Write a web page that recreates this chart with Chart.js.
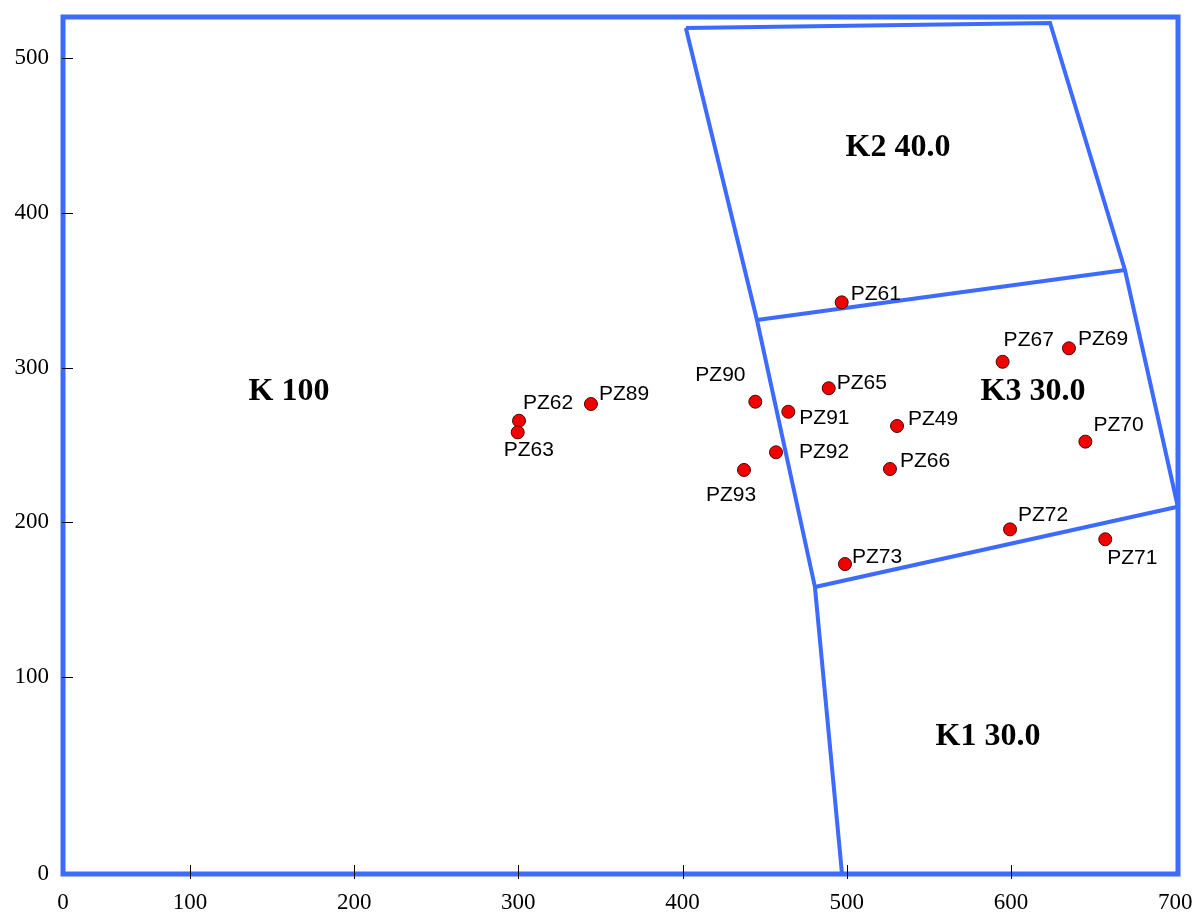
<!DOCTYPE html>
<html>
<head>
<meta charset="utf-8">
<script src="https://cdn.jsdelivr.net/npm/chart.js@4.4.1/dist/chart.umd.min.js"></script>
<style>
  body { margin: 0; background: #fff; }
  #wrap { width: 1199px; height: 912px; position: relative; }
</style>
</head>
<body>
<div id="wrap"><canvas id="chart"></canvas></div>
<script>
// wells
const wellNames = ["PZ61", "PZ62", "PZ63", "PZ89", "PZ90", "PZ91", "PZ65", "PZ92", "PZ93",
  "PZ67", "PZ69", "PZ70", "PZ72", "PZ71", "PZ49", "PZ66", "PZ73"];
const wellX = [496.9, 300.4, 299.6, 344.2, 444.3, 464.4, 489.0, 456.9, 437.4,
  594.9, 635.3, 645.3, 599.4, 657.4, 530.6, 526.3, 498.9];
const wellY = [342.1, 265.6, 258.1, 276.4, 277.9, 271.4, 286.6, 245.2, 233.8,
  303.7, 312.4, 252.1, 195.4, 189.0, 262.2, 234.4, 173.0];
// where each name sits, px from the dot: [to text left, to text middle]
const labelShift = [[9, -8], [4, -18], [-14, 18], [8, -10], [-60, -27], [11, 6], [8, -5], [23, 0], [-38, 25],
  [1, -22], [9, -9], [8, -16], [8, -14], [2, 19], [11, -7], [10, -8], [7, -7]];

// zone boundaries
const westEdge = [[402, 519.4], [445.3, 330.7], [480.6, 158.2], [497.1, -27.3]];
const eastEdge = [[402, 519.4], [623.8, 522.6], [669.4, 363], [701.6, 210]];
const k2k3Edge = [[445.3, 330.7], [669.4, 363]];
const k3k1Edge = [[480.6, 158.2], [701.6, 210]];

// zone captions
const zoneNames = ["K 100", "K2 40.0", "K3 30.0", "K1 30.0"];
const zoneX = [160.3, 531.2, 613.4, 586];
const zoneY = [284.2, 441.8, 284.2, 61.2];

// axes (frame corners are labelled 0)
const xMin = 22.7, xMax = 701.7, yMin = -27.3, yMax = 526.5;
const xTicks = [xMin, 100, 200, 300, 400, 500, 600, 700];
const xTickLabels = ["0", "100", "200", "300", "400", "500", "600", "700"];
const yTicks = [yMin, 100, 200, 300, 400, 500];
const yTickLabels = ["0", "100", "200", "300", "400", "500"];

const BLUE = "#3d6bff";

const toPts = (arr) => arr.map((p) => ({ x: p[0], y: p[1] }));
const edge = (arr) => ({
  type: "line",
  data: toPts(arr),
  borderColor: BLUE,
  borderWidth: 4,
  pointRadius: 0,
  fill: false,
  tension: 0,
  clip: false,
  order: 2,
});

// frame, inner tick marks and all the text on the plot
const decor = {
  id: "decor",
  afterDatasetsDraw(chart) {
    const { ctx, chartArea: a } = chart;
    ctx.save();
    ctx.strokeStyle = BLUE;
    ctx.lineWidth = 5;
    ctx.strokeRect(a.left, a.top, a.right - a.left, a.bottom - a.top);
    ctx.restore();
  },
  afterDraw(chart) {
    const { ctx, chartArea: a, scales } = chart;
    const sx = scales.x, sy = scales.y;
    ctx.save();
    ctx.strokeStyle = "#000";
    ctx.lineWidth = 1;
    ctx.beginPath();
    xTicks.slice(1, -1).forEach((v) => {
      const px = Math.round(sx.getPixelForValue(v)) + 0.5;
      ctx.moveTo(px, a.bottom - 9);
      ctx.lineTo(px, a.bottom + 5);
    });
    yTicks.slice(1).forEach((v) => {
      const py = Math.round(sy.getPixelForValue(v)) + 0.5;
      ctx.moveTo(a.left - 1, py);
      ctx.lineTo(a.left + 10, py);
    });
    ctx.stroke();

    ctx.fillStyle = "#000";
    ctx.font = '21px "Liberation Sans", Arial, sans-serif';
    ctx.textAlign = "left";
    ctx.textBaseline = "middle";
    wellNames.forEach((name, i) => {
      const px = sx.getPixelForValue(wellX[i]);
      const py = sy.getPixelForValue(wellY[i]);
      ctx.fillText(name, px + labelShift[i][0], py + labelShift[i][1]);
    });

    ctx.font = 'bold 32px "Liberation Serif", "Times New Roman", serif';
    ctx.textAlign = "center";
    zoneNames.forEach((name, i) => {
      ctx.fillText(name, sx.getPixelForValue(zoneX[i]), sy.getPixelForValue(zoneY[i]));
    });
    ctx.restore();
  },
};

const tickFont = { family: '"Liberation Serif", "Times New Roman", serif', size: 23 };

new Chart(document.getElementById("chart"), {
  type: "scatter",
  data: {
    datasets: [
      {
        data: wellX.map((x, i) => ({ x: x, y: wellY[i] })),
        backgroundColor: "#f20000",
        borderColor: "#4a0606",
        borderWidth: 1,
        pointRadius: 6.5,
        order: 1,
      },
      edge(westEdge),
      edge(eastEdge),
      edge(k2k3Edge),
      edge(k3k1Edge),
    ],
  },
  options: {
    responsive: true,
    maintainAspectRatio: false,
    animation: false,
    layout: { padding: { top: 17, right: 21, left: 0, bottom: 0 } },
    plugins: { legend: { display: false }, tooltip: { enabled: false } },
    scales: {
      x: {
        type: "linear",
        min: xMin,
        max: xMax,
        grid: { display: false, drawTicks: false },
        border: { display: false },
        afterBuildTicks: (scale) => { scale.ticks = xTicks.map((v) => ({ value: v })); },
        afterFit: (scale) => {
          scale.height = 38;
          scale.paddingLeft = 0;
          scale.paddingRight = 0;
        },
        ticks: {
          autoSkip: false,
          maxRotation: 0,
          padding: 15,
          color: "#000",
          font: tickFont,
          callback: (v, i) => xTickLabels[i],
        },
      },
      y: {
        type: "linear",
        min: yMin,
        max: yMax,
        grid: { display: false, drawTicks: false },
        border: { display: false },
        afterBuildTicks: (scale) => { scale.ticks = yTicks.map((v) => ({ value: v })); },
        afterFit: (scale) => {
          scale.width = 63;
          scale.paddingTop = 0;
          scale.paddingBottom = 0;
        },
        ticks: {
          autoSkip: false,
          padding: 14,
          color: "#000",
          font: tickFont,
          callback: (v, i) => yTickLabels[i],
        },
      },
    },
  },
  plugins: [decor],
});
</script>
</body>
</html>
